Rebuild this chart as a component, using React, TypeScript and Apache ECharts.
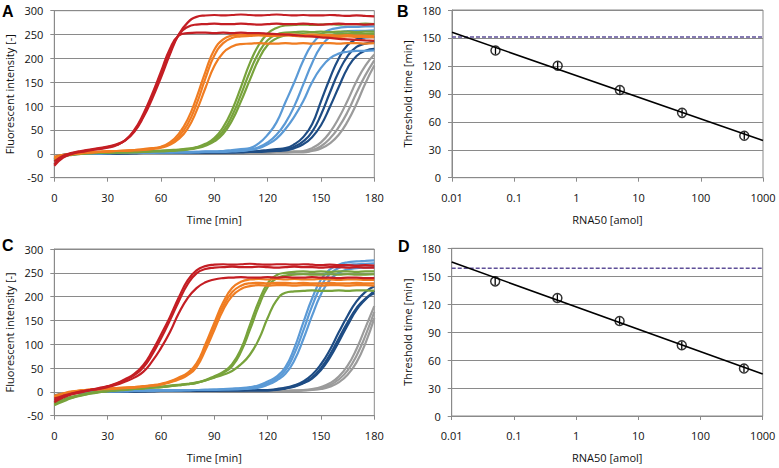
import React, { useEffect, useRef } from "react";
import * as echarts from "echarts";

// ---------- shared time grid (min) ----------
const TIME = [0,5,10,15,20,25,30,35,40,45,50,55,60,65,70,75,80,85,90,95,100,105,110,115,120,125,130,135,140,145,150,155,160,165,170,175,180];

// ---------- Panel A curves ----------
const aRed1 = [-22,-6,1,5,8,11,14,19,28,46,76,115,160,208,250,275,287,290,291,290,291,292,291,290,291,292,291,290,291,290,290,291,290,289,290,289,288];
const aRed2 = [-16,-4,2,6,9,12,15,20,29,48,79,120,165,212,250,266,271,272,273,272,272,273,272,271,272,273,272,272,273,272,271,272,273,272,272,271,272];
const aRed3 = [-25,-8,0,4,7,10,13,18,29,50,83,125,172,220,248,253,254,254,253,254,253,254,253,253,252,251,250,249,247,246,244,243,241,240,239,238,237];
const aOr1 = [-6,-2,0,2,3,4,5,6,7,8,10,12,15,24,42,72,118,172,218,240,248,250,250,251,250,250,251,250,249,250,249,249,248,249,248,248,247];
const aOr2 = [-8,-3,0,2,3,4,5,6,7,8,9,11,14,21,36,62,104,158,206,232,243,246,247,248,247,247,248,247,246,246,247,246,245,246,245,245,244];
const aOr3 = [-10,-4,-1,1,3,4,5,6,6,7,8,10,13,19,31,53,90,138,184,212,225,230,231,232,231,231,232,231,232,231,232,232,231,232,232,231,232];
const aGr1 = [-12,-5,-1,1,2,2,3,3,4,4,5,6,7,8,9,11,14,21,33,56,92,140,190,228,252,264,269,270,271,270,271,272,271,272,272,273,272];
const aGr2 = [-10,-4,-1,1,2,2,3,3,3,4,4,5,6,7,8,10,13,19,29,48,80,124,172,212,238,250,254,255,256,255,256,255,256,256,255,256,256];
const aGr3 = [-14,-6,-2,0,1,2,2,3,3,3,4,5,5,6,7,9,12,17,26,42,70,110,155,198,228,242,248,250,251,250,251,250,251,251,252,251,252];
const aLb1 = [-12,-4,-1,0,1,1,2,2,2,2,3,3,3,3,4,4,4,5,5,6,8,10,12,22,40,66,108,150,195,230,250,260,264,266,266,267,267];
const aLb2 = [-9,-3,0,1,1,1,2,2,2,2,2,3,3,3,3,3,4,4,4,5,6,7,9,14,24,40,65,100,145,190,225,245,254,257,258,258,259];
const aLb3 = [-11,-4,-1,0,1,1,1,2,2,2,2,2,3,3,3,3,3,4,4,4,5,6,8,12,20,32,52,78,110,150,180,200,210,214,216,216,217];
const aDb1 = [-10,-3,0,1,1,1,1,1,2,2,2,2,2,2,2,3,3,3,3,3,4,4,5,6,8,10,12,20,35,62,110,158,200,228,240,244,245];
const aDb2 = [-8,-2,0,1,1,1,1,1,1,2,2,2,2,2,2,2,3,3,3,3,3,4,4,5,6,7,9,15,26,46,82,128,172,205,224,231,234];
const aDb3 = [-12,-4,-1,0,1,1,1,1,1,1,2,2,2,2,2,2,2,3,3,3,3,3,4,4,5,6,7,12,20,35,60,98,140,180,205,216,220];
const aGy1 = [-9,-3,-1,0,0,1,1,1,1,1,1,1,2,2,2,2,2,2,2,2,2,3,3,3,3,4,4,5,6,12,24,45,75,112,152,185,208];
const aGy2 = [-7,-2,0,0,1,1,1,1,1,1,1,1,1,2,2,2,2,2,2,2,2,2,2,3,3,3,3,4,4,8,16,32,56,88,128,165,196];
const aGy3 = [-11,-4,-1,0,0,0,1,1,1,1,1,1,1,1,1,2,2,2,2,2,2,2,2,2,2,3,3,3,3,6,11,22,40,68,105,148,185];

// ---------- Panel C curves ----------
const cRed1 = [-18,-10,-4,0,4,8,12,18,27,38,56,85,120,157,198,234,255,264,267,268,267,268,269,268,267,268,268,267,268,267,266,267,266,266,265,266,265];
const cRed2 = [-14,-8,-3,1,4,7,11,17,25,35,51,78,112,150,190,226,249,258,261,262,263,262,262,263,262,261,262,263,262,262,261,262,262,261,262,261,261];
const cRed3 = [-22,-12,-5,-1,3,6,10,15,22,30,42,64,92,125,165,197,218,230,236,239,240,241,240,240,241,240,241,240,240,241,240,240,239,240,240,239,239];
const cOr1 = [-10,-4,0,3,5,6,7,8,9,10,12,14,17,22,30,40,60,100,145,188,218,231,236,237,236,237,236,237,236,236,237,236,235,236,236,235,235];
const cOr2 = [-8,-3,1,3,5,6,7,8,9,10,11,13,16,21,28,38,57,95,139,180,209,223,228,229,228,229,229,228,229,228,228,229,228,228,229,228,228];
const cOr3 = [-12,-5,-1,2,4,5,6,7,8,9,11,13,15,20,26,35,52,88,130,172,201,216,222,224,223,224,224,223,224,224,223,224,224,223,224,224,223];
const cGr1 = [-26,-18,-12,-7,-3,0,2,4,5,7,8,10,11,13,15,17,20,25,33,42,58,90,140,190,228,245,250,252,253,252,253,252,253,253,252,253,253];
const cGr2 = [-24,-16,-10,-6,-2,0,2,3,5,6,8,9,10,12,14,16,19,24,31,40,54,84,130,180,220,238,244,246,247,246,246,247,246,247,246,246,247];
const cGr3 = [-28,-20,-13,-8,-4,-1,1,3,4,6,7,9,10,12,14,16,19,24,30,36,44,58,78,110,155,192,208,211,212,213,212,212,213,212,213,213,212];
const cLb1 = [-12,-6,-3,-1,0,1,1,2,2,2,3,3,3,3,4,4,4,5,5,6,7,8,10,14,22,32,52,92,145,196,236,257,267,272,274,275,276];
const cLb2 = [-10,-5,-2,0,0,1,1,1,2,2,2,3,3,3,3,4,4,4,5,5,6,7,8,11,18,28,45,80,128,180,222,248,260,266,268,269,270];
const cLb3 = [-14,-7,-3,-1,0,0,1,1,1,2,2,2,3,3,3,3,4,4,4,5,5,6,7,9,15,24,38,66,110,160,205,235,250,257,260,261,262];
const cDb1 = [-10,-5,-2,0,0,1,1,1,1,1,2,2,2,2,2,2,3,3,3,3,3,3,4,4,4,6,9,14,22,36,58,88,125,160,190,210,222];
const cDb2 = [-8,-4,-1,0,0,0,1,1,1,1,1,2,2,2,2,2,2,2,3,3,3,3,3,3,3,5,8,12,19,30,50,78,112,146,176,196,207];
const cDb3 = [-12,-6,-2,-1,0,0,1,1,1,1,1,1,2,2,2,2,2,2,2,3,3,3,3,3,3,4,7,11,18,28,46,72,105,140,172,194,212];
const cGy1 = [-9,-4,-1,0,0,0,0,1,1,1,1,1,1,1,1,1,2,2,2,2,2,2,2,2,2,2,2,3,4,6,10,18,32,55,90,135,180];
const cGy2 = [-7,-3,-1,0,0,0,0,0,1,1,1,1,1,1,1,1,1,1,2,2,2,2,2,2,2,2,2,2,3,4,6,11,20,36,62,102,155];
const cGy3 = [-11,-5,-2,-1,0,0,0,0,1,1,1,1,1,1,1,1,1,1,1,2,2,2,2,2,2,2,2,2,3,5,8,14,26,45,76,118,168];

// ---------- Panels B / D ----------
const RNA50 = [0.05, 0.5, 5, 50, 500];
const bThreshold = [136.5, 120.2, 94.1, 69.6, 45.0];
const bError = [4, 4, 4, 4, 4];
const bFitX = [0.01, 1000];
const bFitY = [156, 40];
const bCutoff = 151;
const dThreshold = [144.5, 126.7, 102.0, 76.0, 51.0];
const dError = [4, 4, 4, 4, 4];
const dFitX = [0.01, 1000];
const dFitY = [165.3, 45];
const dCutoff = 158.5;

// ---------- tick settings ----------
const timeTicks = { min: 0, max: 180, interval: 30 };
const fluorTicks = { min: -50, max: 300, interval: 50 };
const thresholdTicks = { min: 0, max: 180, interval: 30 };
const rnaRange = { min: 0.01, max: 1000 };

const COLORS = {
  red: "#C41E24",
  orange: "#F07D22",
  green: "#78A33C",
  lightBlue: "#5B9AD6",
  darkBlue: "#1E4C84",
  gray: "#9B9B9B",
};

const FONT = "Open Sans";
const AXIS_COLOR = "#8A8A8A";

function buildCurveSeries(groups: { color: string; curves: number[][] }[], axisIdx: number) {
  const out: any[] = [];
  groups.forEach((g) => {
    g.curves.forEach((c) => {
      out.push({
        type: "line",
        xAxisIndex: axisIdx,
        yAxisIndex: axisIdx,
        data: TIME.map((t, i) => [t, c[i]]),
        showSymbol: false,
        symbol: "none",
        smooth: 0.5,
        silent: true,
        lineStyle: { color: g.color, width: 2.2 },
        itemStyle: { color: g.color },
      });
    });
  });
  return out;
}

function buildRegressionSeries(
  axisIdx: number,
  thr: number[],
  err: number[],
  fitX: number[],
  fitY: number[],
  cutoff: number
) {
  return [
    {
      type: "line",
      xAxisIndex: axisIdx,
      yAxisIndex: axisIdx,
      data: [
        [rnaRange.min, cutoff],
        [rnaRange.max, cutoff],
      ],
      symbol: "none",
      silent: true,
      lineStyle: { color: "#5E4F98", width: 1.5, type: [4, 2] },
    },
    {
      type: "line",
      xAxisIndex: axisIdx,
      yAxisIndex: axisIdx,
      data: fitX.map((x, i) => [x, fitY[i]]),
      symbol: "none",
      silent: true,
      lineStyle: { color: "#000", width: 1.6 },
    },
    {
      type: "custom",
      xAxisIndex: axisIdx,
      yAxisIndex: axisIdx,
      silent: true,
      data: RNA50.map((x, i) => [x, thr[i], err[i]]),
      renderItem: (params: any, api: any) => {
        const x = api.value(0);
        const y = api.value(1);
        const e = api.value(2);
        const p1 = api.coord([x, y - e]);
        const p2 = api.coord([x, y + e]);
        return {
          type: "line",
          shape: { x1: p1[0], y1: p1[1], x2: p2[0], y2: p2[1] },
          style: { stroke: "#000", lineWidth: 1.3 },
        };
      },
    },
    {
      type: "scatter",
      xAxisIndex: axisIdx,
      yAxisIndex: axisIdx,
      data: RNA50.map((x, i) => [x, thr[i]]),
      symbol: "circle",
      symbolSize: 9,
      silent: true,
      itemStyle: { color: "rgba(255,255,255,0)", borderColor: "#000", borderWidth: 1.5 },
    },
  ];
}

const labelStyle = { color: "#111", fontSize: 11, fontFamily: FONT };
const nameStyle = { color: "#111", fontSize: 11, fontFamily: FONT };

function valueX(gridIndex: number) {
  return {
    gridIndex,
    type: "value",
    ...timeTicks,
    name: "Time [min]",
    nameLocation: "middle",
    nameGap: 36,
    nameTextStyle: nameStyle,
    axisLine: { show: true, onZero: false, lineStyle: { color: AXIS_COLOR, width: 1 } },
    axisTick: { show: true, length: 4, lineStyle: { color: AXIS_COLOR } },
    axisLabel: { ...labelStyle, margin: 14 },
    splitLine: { show: false },
  };
}

function logX(gridIndex: number) {
  return {
    gridIndex,
    type: "log",
    logBase: 10,
    ...rnaRange,
    name: "RNA50 [amol]",
    nameLocation: "middle",
    nameGap: 36,
    nameTextStyle: nameStyle,
    axisLine: { show: true, onZero: false, lineStyle: { color: AXIS_COLOR, width: 1 } },
    axisTick: { show: true, length: 4, lineStyle: { color: AXIS_COLOR } },
    axisLabel: {
      ...labelStyle,
      margin: 14,
      formatter: (v: number) => String(Number(v.toPrecision(3))),
    },
    splitLine: { show: false },
    minorTick: { show: false },
  };
}

function valueY(gridIndex: number, ticks: any, name: string) {
  return {
    gridIndex,
    type: "value",
    ...ticks,
    name,
    nameLocation: "middle",
    nameGap: 39,
    nameTextStyle: nameStyle,
    axisLine: { show: true, onZero: false, lineStyle: { color: AXIS_COLOR, width: 1 } },
    axisTick: { show: true, length: 4, lineStyle: { color: AXIS_COLOR } },
    axisLabel: { ...labelStyle, margin: 11 },
    splitLine: { show: true, lineStyle: { color: AXIS_COLOR, width: 1 } },
  };
}

export default function App() {
  const ref = useRef<HTMLDivElement>(null);

  useEffect(() => {
    if (!ref.current) return;
    const chart = echarts.init(ref.current, undefined, { renderer: "svg" });

    const groupsA = [
      { color: COLORS.gray, curves: [aGy1, aGy2, aGy3] },
      { color: COLORS.darkBlue, curves: [aDb1, aDb2, aDb3] },
      { color: COLORS.lightBlue, curves: [aLb1, aLb2, aLb3] },
      { color: COLORS.green, curves: [aGr1, aGr2, aGr3] },
      { color: COLORS.orange, curves: [aOr1, aOr2, aOr3] },
      { color: COLORS.red, curves: [aRed1, aRed2, aRed3] },
    ];
    const groupsC = [
      { color: COLORS.gray, curves: [cGy1, cGy2, cGy3] },
      { color: COLORS.darkBlue, curves: [cDb1, cDb2, cDb3] },
      { color: COLORS.lightBlue, curves: [cLb1, cLb2, cLb3] },
      { color: COLORS.green, curves: [cGr1, cGr2, cGr3] },
      { color: COLORS.orange, curves: [cOr1, cOr2, cOr3] },
      { color: COLORS.red, curves: [cRed1, cRed2, cRed3] },
    ];

    const gridStyle = { show: true, borderColor: AXIS_COLOR, borderWidth: 1, backgroundColor: "transparent" };

    const letter = (t: string, x: number, y: number) => ({
      type: "text",
      x,
      y,
      style: {
        text: t,
        fill: "#000",
        font: "bold 16px 'Liberation Sans', Arial, sans-serif",
        textVerticalAlign: "top",
      },
    });

    chart.setOption({
      animation: false,
      backgroundColor: "#fff",
      grid: [
        { left: 54.3, top: 10.7, width: 320, height: 167, ...gridStyle },
        { left: 452, top: 10, width: 311, height: 167.7, ...gridStyle },
        { left: 54.3, top: 249, width: 320, height: 166.7, ...gridStyle },
        { left: 451.7, top: 248.3, width: 311, height: 167.7, ...gridStyle },
      ],
      xAxis: [valueX(0), logX(1), valueX(2), logX(3)],
      yAxis: [
        valueY(0, fluorTicks, "Fluorescent intensity [-]"),
        valueY(1, thresholdTicks, "Threshold time [min]"),
        valueY(2, fluorTicks, "Fluorescent intensity [-]"),
        valueY(3, thresholdTicks, "Threshold time [min]"),
      ],
      graphic: [
        letter("A", 2, 3),
        letter("B", 397, 3),
        letter("C", 2, 237),
        letter("D", 398, 238),
      ],
      series: [
        ...buildCurveSeries(groupsA, 0),
        ...buildRegressionSeries(1, bThreshold, bError, bFitX, bFitY, bCutoff),
        ...buildCurveSeries(groupsC, 2),
        ...buildRegressionSeries(3, dThreshold, dError, dFitX, dFitY, dCutoff),
      ],
    });

    return () => {
      chart.dispose();
    };
  }, []);

  return (
    <div
      ref={ref}
      style={{ position: "fixed", left: 0, top: 0, width: 779, height: 468, background: "#fff" }}
    />
  );
}
